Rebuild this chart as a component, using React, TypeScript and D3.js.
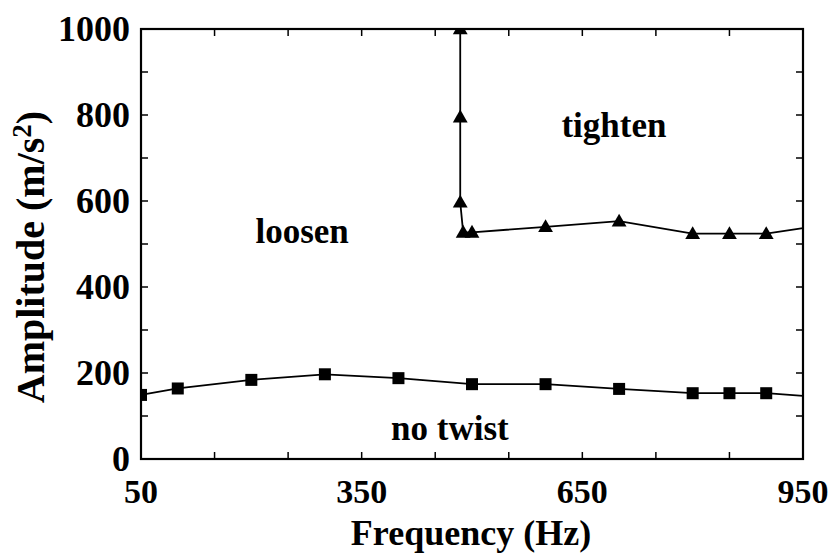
import React from "react";
import * as d3 from "d3";

const noTwistFreq = [50, 100, 200, 300, 400, 500, 600, 700, 800, 850, 900, 950];
const noTwistAmp = [149, 164, 184, 197, 188, 174, 174, 163, 153, 153, 153, 147];
const noTwistMarked = [true, true, true, true, true, true, true, true, true, true, true, false];

const tightenFreq = [484, 484, 484, 488, 500, 600, 700, 800, 850, 900, 950];
const tightenAmp = [1000, 795, 597, 527, 527, 540, 553, 524, 524, 524, 537];
const tightenMarked = [true, true, true, true, true, true, true, true, true, true, false];

const xTickLabels = [50, 350, 650, 950];
const yTickLabels = [0, 200, 400, 600, 800, 1000];
const minorStep = 100;

const regionLabels = ["loosen", "tighten", "no twist"];
const regionPos: [number, number][] = [
  [269, 502],
  [693, 749],
  [470, 44],
];

const W = 835;
const H = 555;
const M = { left: 141, right: 32, top: 29, bottom: 96 };

export default function App() {
  const x = d3.scaleLinear().domain([50, 950]).range([M.left, W - M.right]);
  const y = d3.scaleLinear().domain([0, 1000]).range([H - M.bottom, M.top]);
  const font = "'Liberation Serif', 'Times New Roman', serif";

  const line = d3
    .line<[number, number]>()
    .x((d) => x(d[0]))
    .y((d) => y(d[1]));

  const nt: [number, number][] = noTwistFreq.map((f, i) => [f, noTwistAmp[i]]);
  const tg: [number, number][] = tightenFreq.map((f, i) => [f, tightenAmp[i]]);

  const xMinor = d3.range(150, 950, minorStep);
  const yMinor = d3.range(100, 1000, minorStep);
  const tk = 7;
  const x0 = x(50), x1 = x(950), y0 = y(0), y1 = y(1000);

  const sq = 12;
  const tri = d3.symbol().type(d3.symbolTriangle).size(95)();

  return (
    <svg
      width={W}
      height={H}
      style={{ position: "absolute", left: 0, top: 0, background: "#fff" }}
      fontFamily={font}
    >
      <defs>
        <clipPath id="plotclip">
          <rect x={x0} y={y1} width={x1 - x0} height={y0 - y1} />
        </clipPath>
      </defs>
      <rect width={W} height={H} fill="#fff" />

      {xMinor.map((v) => (
        <g key={"xt" + v} stroke="#000" strokeWidth={1.5}>
          <line x1={x(v)} x2={x(v)} y1={y0} y2={y0 - tk} />
          <line x1={x(v)} x2={x(v)} y1={y1} y2={y1 + tk} />
        </g>
      ))}
      {yMinor.map((v) => (
        <g key={"yt" + v} stroke="#000" strokeWidth={1.5}>
          <line x1={x0} x2={x0 + tk} y1={y(v)} y2={y(v)} />
          <line x1={x1} x2={x1 - tk} y1={y(v)} y2={y(v)} />
        </g>
      ))}

      <rect
        x={x0}
        y={y1}
        width={x1 - x0}
        height={y0 - y1}
        fill="none"
        stroke="#000"
        strokeWidth={2.2}
      />

      <path d={line(nt) || ""} fill="none" stroke="#000" strokeWidth={1.8} />
      <path d={line(tg) || ""} fill="none" stroke="#000" strokeWidth={1.8} />

      <g clipPath="url(#plotclip)">
        {nt.map((d, i) =>
          noTwistMarked[i] ? (
            <rect
              key={"s" + i}
              x={x(d[0]) - sq / 2}
              y={y(d[1]) - sq / 2}
              width={sq}
              height={sq}
              fill="#000"
            />
          ) : null
        )}
        {tg.map((d, i) =>
          tightenMarked[i] ? (
            <path
              key={"t" + i}
              d={tri || ""}
              transform={`translate(${x(d[0])},${y(d[1]) + 1})`}
              fill="#000"
            />
          ) : null
        )}
      </g>

      {xTickLabels.map((v) => (
        <text
          key={"xl" + v}
          x={x(v)}
          y={503}
          textAnchor="middle"
          fontSize={34}
          fontWeight="bold"
          fill="#000"
        >
          {v}
        </text>
      ))}
      {yTickLabels.map((v) => (
        <text
          key={"yl" + v}
          x={130}
          y={y(v) + 12}
          textAnchor="end"
          fontSize={36}
          fontWeight="bold"
          fill="#000"
        >
          {v}
        </text>
      ))}

      {regionLabels.map((t, i) => (
        <text
          key={t}
          x={x(regionPos[i][0])}
          y={y(regionPos[i][1])}
          textAnchor="middle"
          fontSize={35}
          fontWeight="bold"
          fill="#000"
        >
          {t}
        </text>
      ))}

      <text
        x={(x0 + x1) / 2 - 1}
        y={545}
        textAnchor="middle"
        fontSize={36}
        fontWeight="bold"
        fill="#000"
      >
        Frequency (Hz)
      </text>
      <text
        transform={`translate(44,${(y0 + y1) / 2 + 13}) rotate(-90)`}
        textAnchor="middle"
        fontSize={40}
        fontWeight="bold"
        fill="#000"
      >
        Amplitude (m/s
        <tspan fontSize={27} dy={-13}>2</tspan>
        <tspan dy={13}>)</tspan>
      </text>
    </svg>
  );
}
